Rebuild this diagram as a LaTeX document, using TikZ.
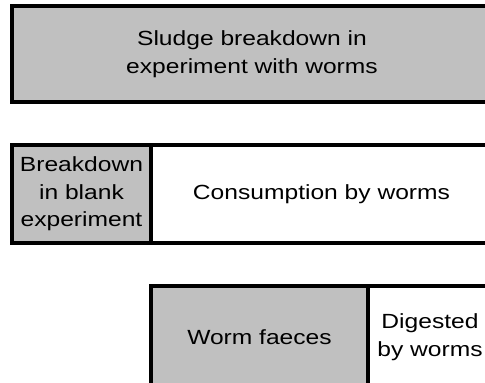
\documentclass[tikz,border=0pt]{standalone}
\usepackage{fontspec}
\setmainfont{Liberation Sans}[FakeStretch=1.2]
\definecolor{sludgegray}{HTML}{C0C0C0}
\tikzset{
    part/.style={draw=black, line width=4pt, align=center, inner sep=2pt,
        font=\fontsize{20.5}{27.5}\selectfont},
    grey part/.style={part, fill=sludgegray},
    white part/.style={part, fill=white},
}

\begin{document}
\begin{tikzpicture}[x=1pt,y=-1pt]
    \useasboundingbox (0,0) rectangle (485,383);

    % whole breakdown
    \node[grey part, minimum width=480pt, minimum height=96pt] (total)
        at (252,54) {Sludge breakdown in\\experiment with worms};

    % blank vs. worms
    \node[grey part, minimum width=139pt, minimum height=98pt] (blank)
        at (81.5,194) {Breakdown\\in blank\\experiment};
    \node[white part, minimum width=341pt, minimum height=98pt] (consumed)
        at (321.5,194) {Consumption by worms};

    % consumption split up
    \node[grey part, minimum width=217pt, minimum height=102pt] (faeces)
        at (259.5,337) {Worm faeces};
    \node[white part, minimum width=124pt, minimum height=102pt] (digested)
        at (430,337) {Digested\\by worms};
\end{tikzpicture}
\end{document}
